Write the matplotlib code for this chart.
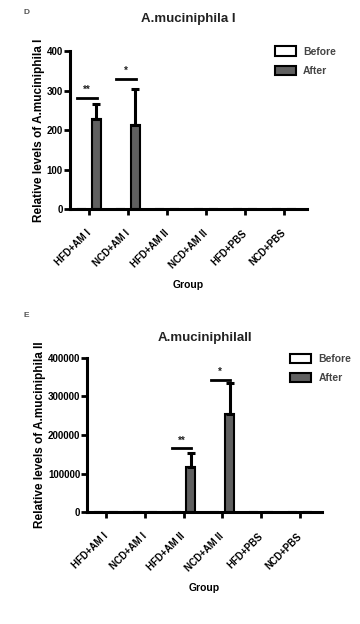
import matplotlib.pyplot as plt
import numpy as np

plt.rcParams['font.family'] = ['Liberation Sans', 'DejaVu Sans']
plt.rcParams['font.weight'] = 'bold'
plt.rcParams['axes.titleweight'] = 'bold'
plt.rcParams['axes.labelweight'] = 'bold'
plt.rcParams['text.color'] = '#222222'

groups = ['HFD+AM I', 'NCD+AM I', 'HFD+AM II', 'NCD+AM II', 'HFD+PBS', 'NCD+PBS']

# panel D: A.muciniphila I
before_1 = [0, 0, 0, 0, 0, 0]
after_1 = [227, 214, 0, 0, 0, 0]
err_1 = [40, 90, 0, 0, 0, 0]
sig_1 = [(0, 281, '**'), (1, 329, '*')]

# panel E: A.muciniphila II
before_2 = [0, 0, 0, 0, 0, 0]
after_2 = [0, 0, 116000, 253000, 0, 0]
err_2 = [0, 0, 36000, 80000, 0, 0]
sig_2 = [(2, 165000, '**'), (3, 343000, '*')]

fig = plt.figure(figsize=(3.6, 6.24), dpi=100)


def panel(rect, before, after, err, sig, yticks, ymax, title, tpad, ylabel, lpos):
    ax = fig.add_axes(rect)
    x = np.arange(len(groups))
    off = 0.19
    w = 0.23
    ax.bar(x - off, before, w, color='white', edgecolor='black', linewidth=1.5, label='Before')
    ax.bar(x + off, after, w, color='#606060', edgecolor='black', linewidth=1.5, label='After')
    for xi, a, e in zip(x, after, err):
        if e > 0:
            ax.errorbar(xi + off, a, yerr=[[0], [e]], color='black', capsize=3,
                        elinewidth=2.2, capthick=2.2)
    for i, y, s in sig:
        ax.plot([i - 0.3, i + 0.2], [y, y], color='black', lw=2)
        ax.text(i - 0.05, y + ymax * 0.02, s, ha='center', va='bottom', fontsize=7)
    ax.set_xlim(-0.49, 5.58)
    ax.set_ylim(0, ymax)
    ax.set_yticks(yticks)
    ax.set_xticks(x)
    ax.set_xticklabels(groups, rotation=45, ha='right', va='center',
                       rotation_mode='anchor', fontsize=7)
    ax.tick_params(axis='y', labelsize=7, width=2, length=4, pad=1)
    ax.tick_params(axis='x', width=2, length=4, pad=12)
    for s in ['top', 'right']:
        ax.spines[s].set_visible(False)
    for s in ['left', 'bottom']:
        ax.spines[s].set_linewidth(2.2)
    ax.set_title(title, fontsize=9.5, pad=tpad)
    ax.set_ylabel(ylabel, fontsize=8.5, labelpad=1)
    ax.set_xlabel('Group', fontsize=7.5, labelpad=7)
    leg = ax.legend(loc='upper left', bbox_to_anchor=lpos, frameon=False, fontsize=7.5,
                    handlelength=2.0, handleheight=1.0, labelspacing=0.9,
                    handletextpad=0.7, borderpad=0, borderaxespad=0)
    for t in leg.get_texts():
        t.set_color('#444444')
    return ax


panel([0.194, 0.665, 0.658, 0.253], before_1, after_1, err_1, sig_1,
      [0, 100, 200, 300, 400], 400, 'A.muciniphila I', 21,
      'Relative levels of A.muciniphila I', (0.865, 1.03))
panel([0.242, 0.179, 0.653, 0.248], before_2, after_2, err_2, sig_2,
      [0, 100000, 200000, 300000, 400000], 400000, 'A.muciniphilaII', 12,
      'Relative levels of A.muciniphila II', (0.864, 1.026))

fig.text(0.065, 0.978, 'D', fontsize=6, color='#555555')
fig.text(0.065, 0.492, 'E', fontsize=6, color='#555555')

fig.savefig('out.png', dpi=100)
